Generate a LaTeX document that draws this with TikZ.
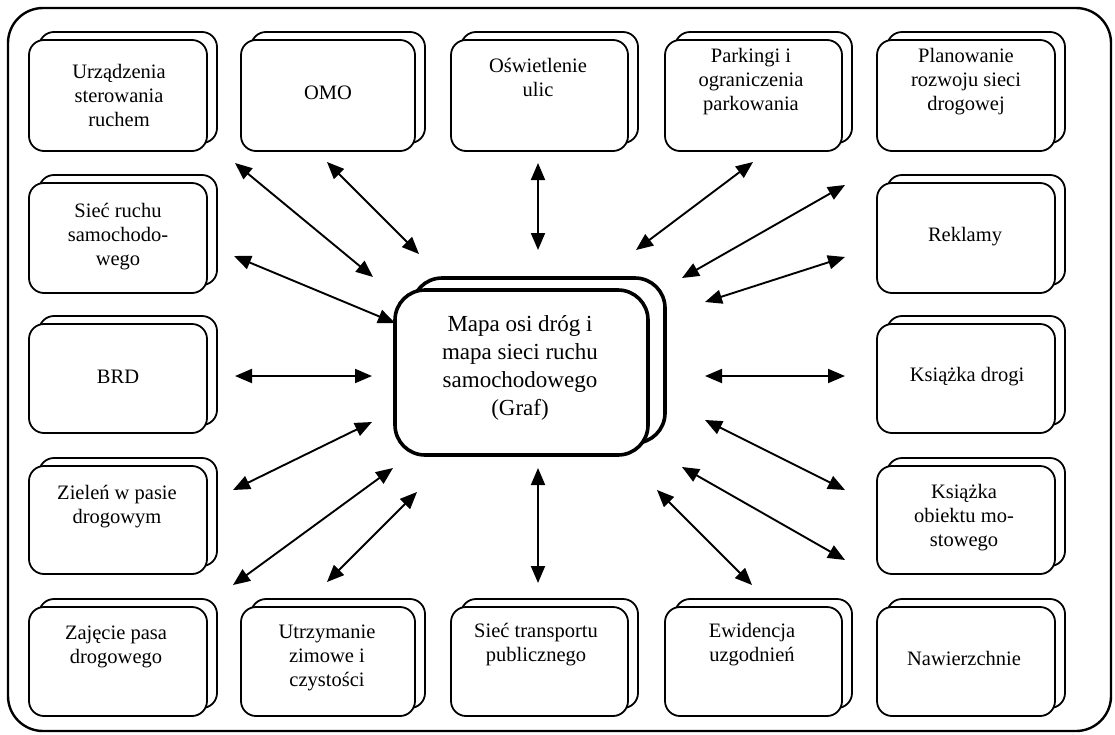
\documentclass[tikz,border=0pt]{standalone}
\usepackage{fontspec}
\setmainfont{Liberation Serif}
\usetikzlibrary{arrows.meta}

% a card drawn as a front box with a second box peeking out behind it
% #1 name, #2 cx, #3 cy, #4 width, #5 height
\newcommand\stackcard[5]{%
  \node[cardback, minimum width=#4pt, minimum height=#5pt] (#1b) at (#2,#3) {};
  \node[card, minimum width=#4pt, minimum height=#5pt] (#1) at (#2,#3) {};
}

\begin{document}
\begin{tikzpicture}[x=1pt,y=-1pt,
  card/.style={draw, line width=1.8pt, rounded corners=15pt, fill=white, inner sep=0pt, outer sep=0pt},
  cardback/.style={card, xshift=10pt, yshift=8pt},
  hub/.style={draw, line width=3.6pt, rounded corners=30pt, fill=white, inner sep=0pt,
    minimum width=253pt, minimum height=165pt},
  lbl/.style={align=center, font=\fontsize{20.5}{24}\selectfont, inner sep=0pt},
  hublbl/.style={align=center, font=\fontsize{23}{28}\selectfont, inner sep=0pt},
  link/.style={line width=1.9pt, {Triangle[length=17pt,width=14pt]}-{Triangle[length=17pt,width=14pt]}},
]
\useasboundingbox (0,0) rectangle (1115,734);

% outer frame
\draw[line width=2.4pt, rounded corners=35pt] (8,8) rectangle (1111,731);

% top row
\stackcard{urz}{118}{95.5}{178}{111}
\stackcard{omo}{328}{95.5}{174}{111}
\stackcard{osw}{539.5}{95.5}{177}{111}
\stackcard{par}{753.5}{95.5}{177}{111}
\stackcard{pla}{966}{95.5}{178}{111}
% side columns
\stackcard{sie}{118}{238}{178}{110}
\stackcard{rek}{966}{238}{178}{110}
\stackcard{brd}{118}{378.5}{178}{109}
\stackcard{ksd}{966}{378.5}{178}{109}
\stackcard{zie}{118}{520}{178}{108}
\stackcard{kso}{966}{520}{178}{108}
% bottom row
\stackcard{zaj}{118}{661.5}{178}{109}
\stackcard{utr}{328}{661.5}{174}{109}
\stackcard{tra}{539.5}{661.5}{177}{109}
\stackcard{ewi}{753.5}{661.5}{177}{109}
\stackcard{naw}{966}{661.5}{178}{109}

% central card
\node[hub, xshift=17pt, yshift=12pt] (hubb) at (521.5,372.5) {};
\node[hub] (hub) at (521.5,372.5) {};

% labels
\node[lbl] (turz) at (119,95) {Urządzenia\\sterowania\\ruchem};
\node[lbl] (tomo) at (328,93) {OMO};
\node[lbl] (tosw) at (538,77) {Oświetlenie\\ulic};
\node[lbl] (tpar) at (751,82) {Parkingi i\\ograniczenia\\parkowania};
\node[lbl] (tpla) at (966,82) {Planowanie\\rozwoju sieci\\drogowej};
\node[lbl] (tsie) at (118,237) {Sieć ruchu\\samochodo-\\wego};
\node[lbl] (trek) at (965,237) {Reklamy};
\node[lbl] (tbrd) at (118,377) {BRD};
\node[lbl] (tksd) at (967,377) {Książka drogi};
\node[lbl] (tzie) at (117,507) {Zieleń w pasie\\drogowym};
\node[lbl] (tkso) at (964,518) {Książka\\obiektu mo-\\stowego};
\node[lbl] (tzaj) at (116,647) {Zajęcie pasa\\drogowego};
\node[lbl] (tutr) at (327,658) {Utrzymanie\\zimowe i\\czystości};
\node[lbl] (ttra) at (536,645) {Sieć transportu\\publicznego};
\node[lbl] (tewi) at (752,645) {Ewidencja\\uzgodnień};
\node[lbl] (tnaw) at (964,658) {Nawierzchnie};
\node[hublbl] (thub) at (520,368) {Mapa osi dróg i\\mapa sieci ruchu\\samochodowego\\(Graf)};

% arrow end points
\coordinate (urzA) at (235,163);  \coordinate (urzB) at (373,277);
\coordinate (omoA) at (327,162);  \coordinate (omoB) at (419,254);
\coordinate (sieA) at (234,256);  \coordinate (sieB) at (395,323);
\coordinate (oswA) at (538,163);  \coordinate (oswB) at (538,250);
\coordinate (parA) at (753,162);  \coordinate (parB) at (636,250);
\coordinate (plaA) at (845,185);  \coordinate (plaB) at (682,278);
\coordinate (rekA) at (845,257);  \coordinate (rekB) at (705,302);
\coordinate (brdA) at (235,376);  \coordinate (brdB) at (372,376);
\coordinate (ksdA) at (845,376);  \coordinate (ksdB) at (705,376);
\coordinate (zieA) at (233,490);  \coordinate (zieB) at (372,422);
\coordinate (zajA) at (233,585);  \coordinate (zajB) at (393,468);
\coordinate (utrA) at (327,582);  \coordinate (utrB) at (417,492);
\coordinate (traA) at (538,583);  \coordinate (traB) at (538,468);
\coordinate (ewiA) at (752,585);  \coordinate (ewiB) at (657,490);
\coordinate (kspA) at (845,490);  \coordinate (kspB) at (705,420);
\coordinate (ksoA) at (845,560);  \coordinate (ksoB) at (682,467);

% links to the central card
\foreach \n in {urz,omo,sie,osw,par,pla,rek,brd,ksd,zie,zaj,utr,tra,ewi,ksp,kso}
  \draw[link] (\n A) -- (\n B);
\end{tikzpicture}
\end{document}
